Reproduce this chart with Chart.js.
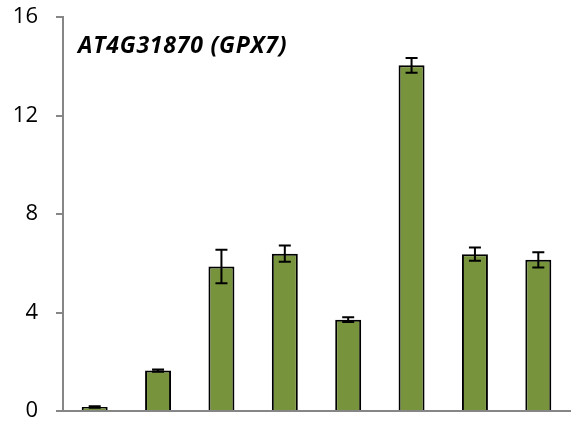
<!DOCTYPE html>
<html>
<head>
<meta charset="utf-8">
<script src="https://cdn.jsdelivr.net/npm/chart.js@4"></script>
<style>
  html, body { margin: 0; padding: 0; background: #fff; }
  #wrap { width: 574px; height: 425px; position: relative; }
</style>
</head>
<body>
<div id="wrap"><canvas id="c" width="574" height="425"></canvas></div>
<script>
// Expression levels for eight samples, with standard error
const categories = ['1', '2', '3', '4', '5', '6', '7', '8'];
const means = [0.16, 1.64, 5.87, 6.39, 3.71, 14.04, 6.37, 6.14];
const errors = [0.03, 0.05, 0.68, 0.33, 0.10, 0.30, 0.27, 0.31];
const yTicks = [0, 4, 8, 12, 16];
const chartTitle = 'AT4G31870 (GPX7)';

const axisGray = '#868686';
const fontFamily = '"Open Sans", Lato, sans-serif';

// Error bars drawn through the scales
const errorBarPlugin = {
  id: 'errorBars',
  afterDatasetsDraw(chart) {
    const ctx = chart.ctx;
    const meta = chart.getDatasetMeta(0);
    const y = chart.scales.y;
    ctx.save();
    ctx.strokeStyle = '#000';
    ctx.lineWidth = 2;
    meta.data.forEach((bar, i) => {
      const x = bar.x;
      const top = y.getPixelForValue(means[i] + errors[i]);
      const bot = y.getPixelForValue(means[i] - errors[i]);
      const cap = 6;
      ctx.beginPath();
      ctx.moveTo(x, top); ctx.lineTo(x, bot);
      ctx.moveTo(x - cap, top); ctx.lineTo(x + cap, top);
      ctx.moveTo(x - cap, bot); ctx.lineTo(x + cap, bot);
      ctx.stroke();
    });
    ctx.restore();
  }
};

// Gene name written inside the plot area
const innerTitlePlugin = {
  id: 'innerTitle',
  afterDraw(chart) {
    const ctx = chart.ctx;
    const a = chart.chartArea;
    ctx.save();
    ctx.font = 'italic bold 23px ' + fontFamily;
    if ('letterSpacing' in ctx) ctx.letterSpacing = '0.8px';
    ctx.fillStyle = '#000';
    ctx.textAlign = 'left';
    ctx.textBaseline = 'alphabetic';
    ctx.fillText(chartTitle, a.left + 15, a.top + 36);
    ctx.restore();
  }
};

new Chart(document.getElementById('c'), {
  type: 'bar',
  data: {
    labels: categories,
    datasets: [{
      data: means,
      backgroundColor: '#77933C',
      borderColor: '#000',
      borderWidth: 2,
      barPercentage: 0.41,
      categoryPercentage: 1.0
    }]
  },
  options: {
    responsive: false,
    animation: false,
    devicePixelRatio: 1,
    layout: { padding: { left: 0, right: 4, top: 17, bottom: 0 } },
    plugins: {
      legend: { display: false },
      tooltip: { enabled: false }
    },
    scales: {
      x: {
        afterFit(scale) { scale.height = 14; },
        ticks: { display: false },
        grid: { display: false },
        border: { color: axisGray, width: 2 }
      },
      y: {
        min: 0,
        max: 16,
        afterBuildTicks(scale) { scale.ticks = yTicks.map(v => ({ value: v })); },
        afterFit(scale) {
          scale.width = 63;
          scale.paddingTop = 0;
          scale.paddingBottom = 0;
        },
        ticks: {
          color: '#000',
          font: { family: fontFamily, size: 22 },
          padding: 18
        },
        grid: {
          drawOnChartArea: false,
          drawTicks: true,
          tickLength: 7,
          color: axisGray,
          lineWidth: 2
        },
        border: { color: axisGray, width: 2 }
      }
    }
  },
  plugins: [errorBarPlugin, innerTitlePlugin]
});
</script>
</body>
</html>
